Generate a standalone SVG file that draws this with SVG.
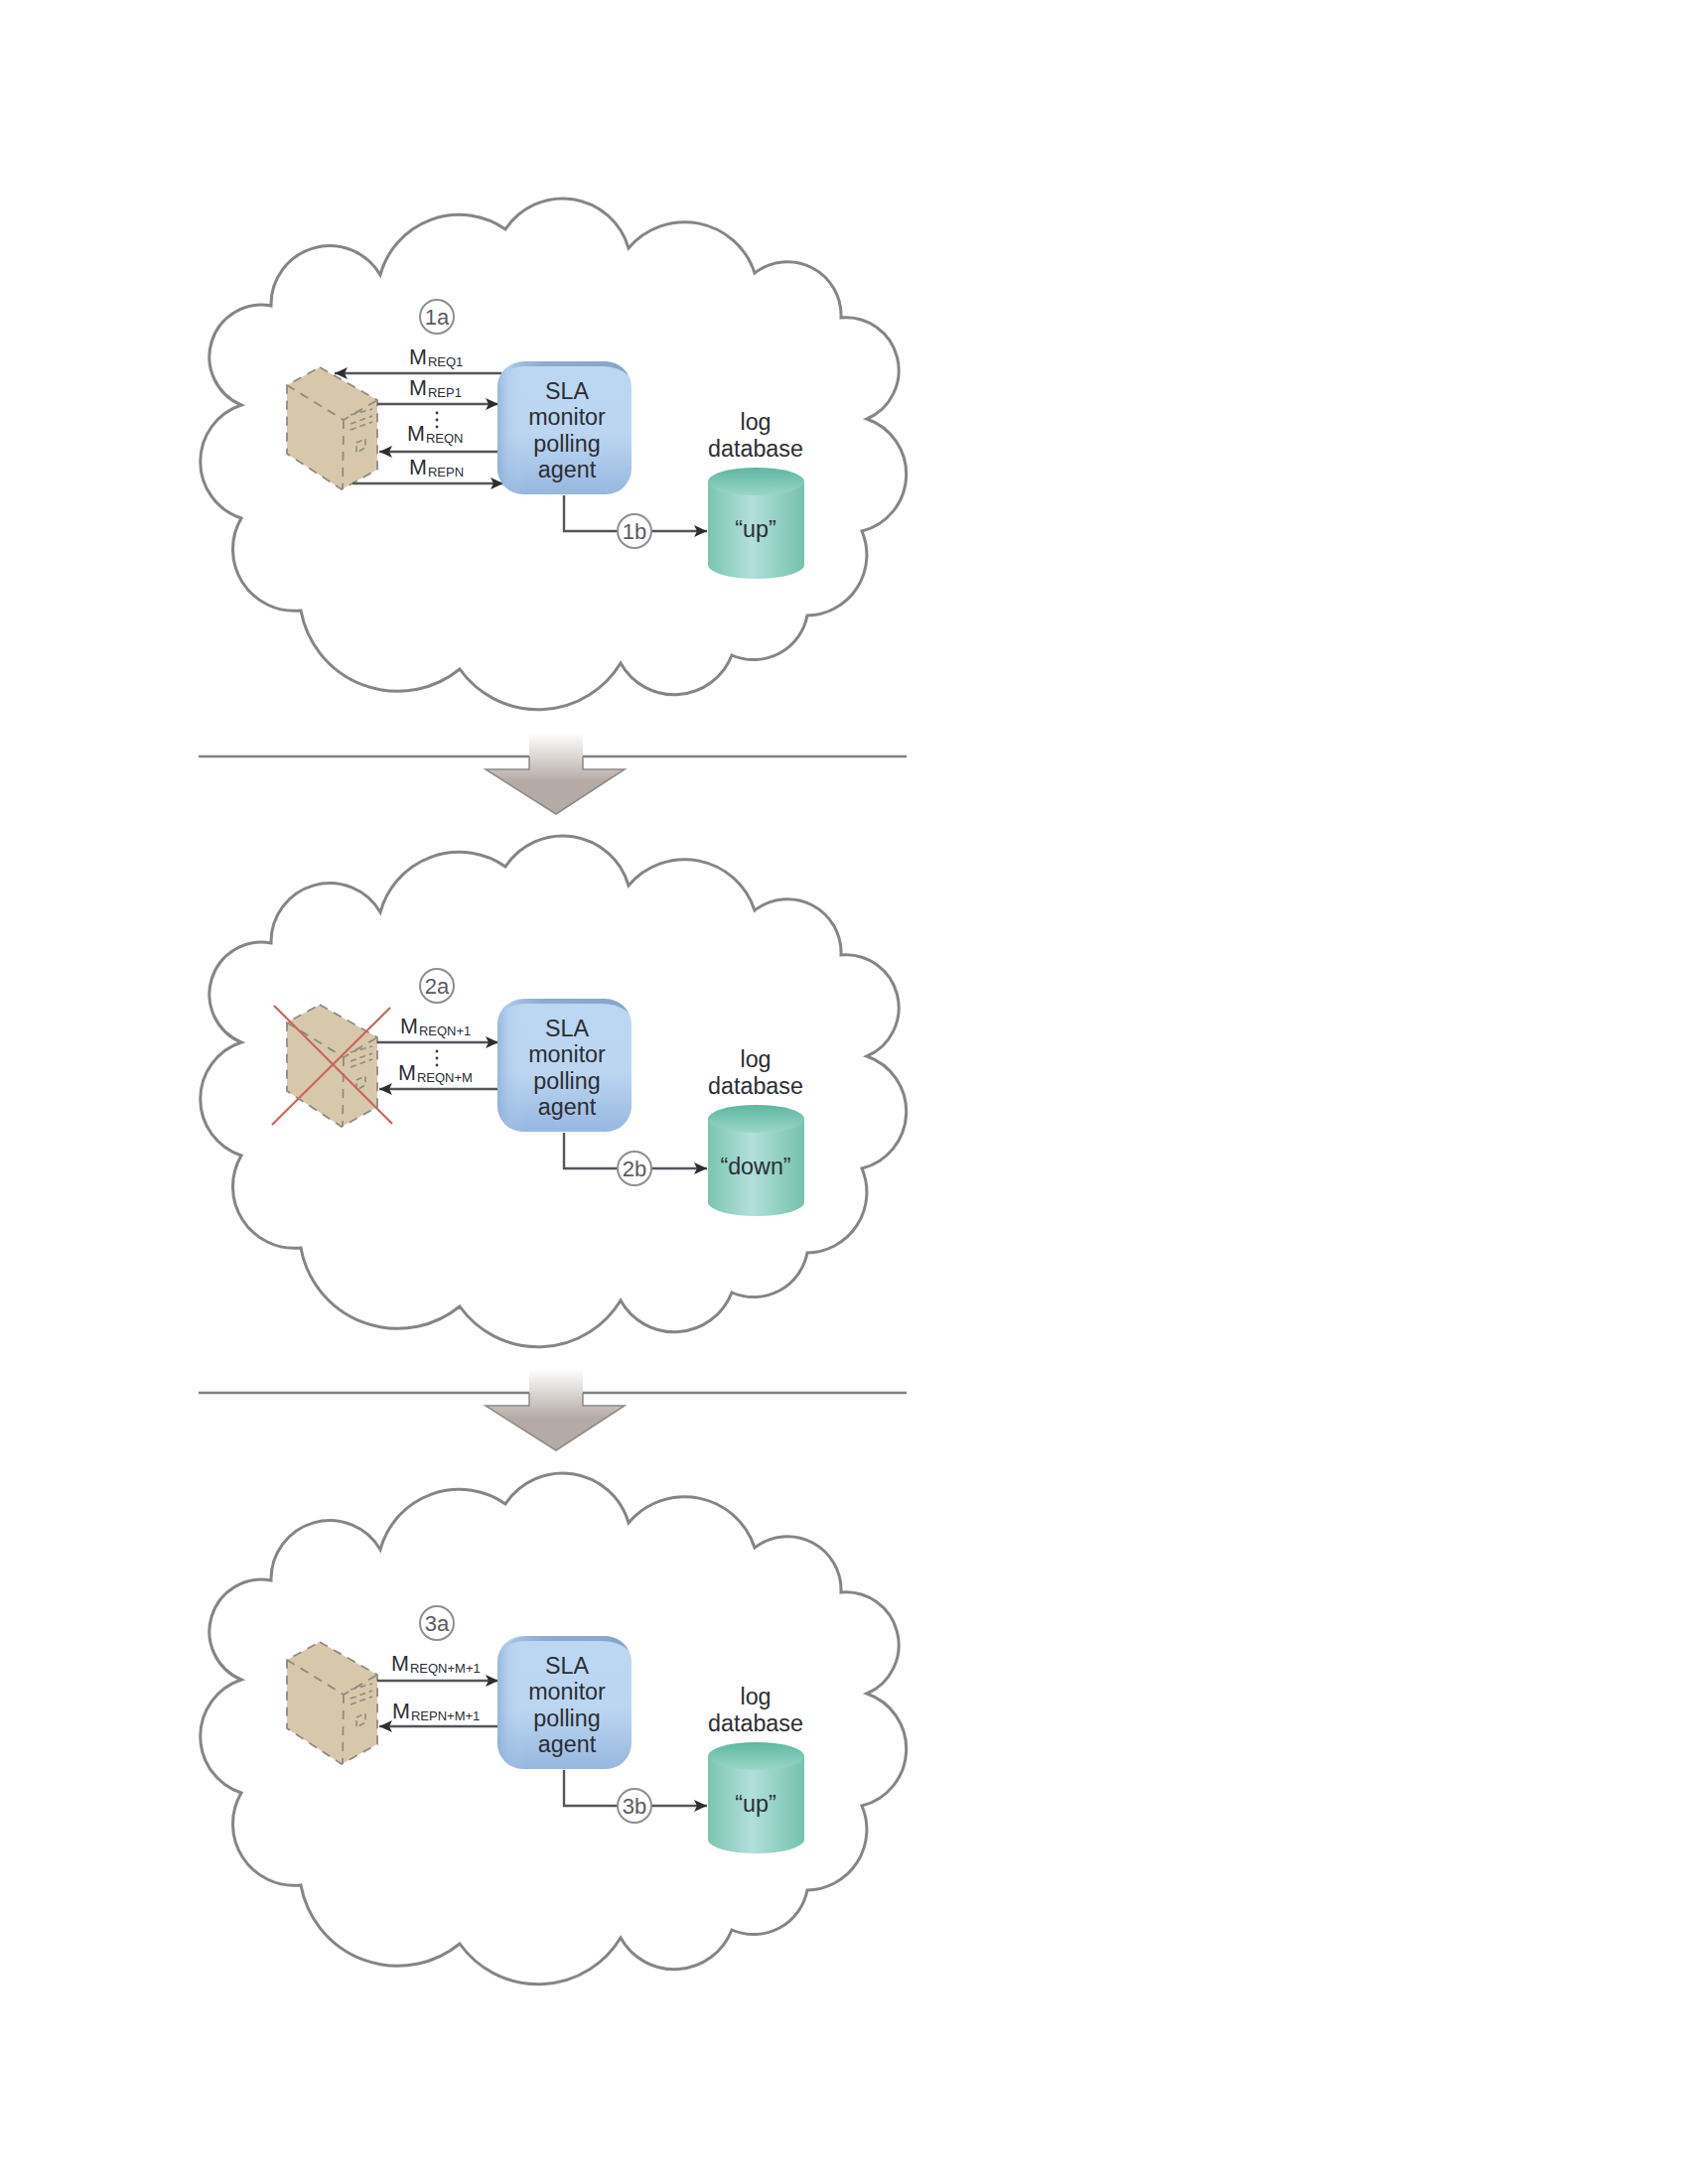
<svg xmlns="http://www.w3.org/2000/svg" xmlns:xlink="http://www.w3.org/1999/xlink" width="1700" height="2200" viewBox="0 0 1700 2200">
<style>
text{font-family:"Liberation Sans",Arial,sans-serif;fill:#2c2e33;text-anchor:middle}
.t{font-size:23.3px}
.m{font-size:21.500px;text-anchor:start}
.s{font-size:13px}
.n{font-size:22px;fill:#5a5b5f}
.cl{fill:#fff;stroke:#858587;stroke-width:3}
.c{fill:none;stroke:#55555a;stroke-width:2.4}
.a{marker-end:url(#ah)}
.k{fill:#fff;stroke:#8f8f8f;stroke-width:2}
.d{fill:none;stroke:#8f8b80;stroke-width:1.8;stroke-dasharray:9 7}
.v{fill:none;stroke:#8f8b80;stroke-width:1.6;stroke-dasharray:6 4}
.dv{stroke:#808082;stroke-width:2.4}
.dot{fill:#3a3a3e}
</style>
<defs>
<marker id="ah" markerUnits="userSpaceOnUse" markerWidth="16" markerHeight="14" refX="13" refY="7" orient="auto"><path d="M0,1 L13,7 L0,13 L3,7 Z" fill="#2e2e32"/></marker>
<linearGradient id="bx" x1="0" y1="0" x2="0" y2="1"><stop offset="0" stop-color="#bcd7f2"/><stop offset=".55" stop-color="#bcd6f1"/><stop offset="1" stop-color="#97b7e0"/></linearGradient>
<linearGradient id="bl" x1="0" y1="0" x2="1" y2="0"><stop offset="0" stop-color="#86a8d2" stop-opacity=".7"/><stop offset=".08" stop-color="#9dbce2" stop-opacity=".3"/><stop offset=".2" stop-color="#bdd7f2" stop-opacity="0"/></linearGradient>
<linearGradient id="bt" x1="0" y1="0" x2="1" y2="0"><stop offset="0" stop-color="#a9c5e4"/><stop offset=".3" stop-color="#8eacd0"/><stop offset="1" stop-color="#86a4ca"/></linearGradient>
<linearGradient id="cy" x1="0" y1="0" x2="1" y2="0"><stop offset="0" stop-color="#7cc5b0"/><stop offset=".45" stop-color="#b2dfdb"/><stop offset="1" stop-color="#77c2ad"/></linearGradient>
<linearGradient id="ct" x1="0" y1="0" x2="0" y2="1"><stop offset="0" stop-color="#5fb6a1"/><stop offset="1" stop-color="#9ad6c8"/></linearGradient>
<linearGradient id="ar" x1="0" y1="0" x2="0" y2="1"><stop offset="0" stop-color="#fff"/><stop offset=".6" stop-color="#b5aba6"/><stop offset="1" stop-color="#b5aba6"/></linearGradient>
<path id="cloud" class="cl" d="M509,231 A69,69 0 0 1 633,250 A74,74 0 0 1 760,275 A54,54 0 0 1 847,320 A53.3,53.3 0 0 1 873,422 A59,59 0 0 1 868,535 A61,61 0 0 1 813,620 A55,55 0 0 1 737,660 A62,62 0 0 1 625,668 A97,97 0 0 1 463,674 A99,99 0 0 1 303,615 A62,62 0 0 1 243,522 A60,60 0 0 1 243,408 A52.5,52.5 0 0 1 273,308 A59,59 0 0 1 383,277 A82,82 0 0 1 509,231 Z"/>
<g id="srv">
<path d="M322,370 L380,403 L380,473 L344,493 L289,457 L289,388 Z" fill="#d8c8ab"/>
<path class="d" d="M322,370 L380,403 L380,473 L344,493 L289,457 L289,388 Z"/>
<path class="d" d="M289,388 L346,423 L380,403 M346,423 L345,493"/>
<path class="v" d="M353,418 L375,412 M353,427 L375,419 M353,433 L375,425"/>
<path class="v" d="M359,446 L368,442 L368,451 L359,456 Z"/>
</g>
<g id="box">
<rect x="501" y="364" width="135" height="134" rx="26" fill="url(#bx)"/>
<rect x="501" y="364" width="135" height="134" rx="26" fill="url(#bl)"/>
<path d="M510,374 Q517,364 530,364 L608,364 Q624,364 633,378 Q622,369 606,369 L530,369 Q518,369 510,374 Z" fill="url(#bt)"/>
</g>
<g id="cyl">
<path d="M713,485 L713,569 A48.5,14 0 0 0 810,569 L810,485 Z" fill="url(#cy)"/>
<ellipse cx="761.500" cy="485" rx="48.500" ry="14" fill="url(#ct)"/>
</g>
<g id="dvd">
<path class="dv" d="M200,762 L534,762 M586,762 L913,762"/>
<path d="M533,738 L587,738 L587,775 L629,775 L560,820 L489,775 L533,775 Z" fill="url(#ar)"/>
<path d="M587,762 L587,775 L629,775 L560,820 L489,775 L533,775 L533,762" fill="none" stroke="#8f8985" stroke-width="1.5"/>
</g>
</defs>
<rect width="1700" height="2200" fill="#fff"/>

<g id="cloud1"><use xlink:href="#cloud" href="#cloud"/></g>
<g id="cloud2" transform="translate(0,642)"><use xlink:href="#cloud" href="#cloud"/></g>
<g id="cloud3" transform="translate(0,1284)"><use xlink:href="#cloud" href="#cloud"/></g>
<g id="divider1"><use xlink:href="#dvd" href="#dvd"/></g>
<g id="divider2" transform="translate(0,641)"><use xlink:href="#dvd" href="#dvd"/></g>

<g id="server1"><use xlink:href="#srv" href="#srv"/></g>
<g id="server2" transform="translate(0,642)"><use xlink:href="#srv" href="#srv"/></g>
<g id="server3" transform="translate(0,1284)"><use xlink:href="#srv" href="#srv"/></g>

<g id="connectors">
<path class="c a" d="M505,376 L337,376"/>
<path class="c a" d="M380,407 L502,407"/>
<path class="c a" d="M503,455 L382,455"/>
<path class="c a" d="M355,487 L507,487"/>
<path class="c a" d="M568,499 L568,535 L712,535"/>
<path class="c a" d="M380,1050 L502,1050"/>
<path class="c a" d="M503,1097 L382,1097"/>
<path class="c a" d="M568,1141 L568,1177 L712,1177"/>
<path class="c a" d="M380,1693 L502,1693"/>
<path class="c a" d="M503,1739 L382,1739"/>
<path class="c a" d="M568,1783 L568,1819 L712,1819"/>
</g>

<g id="cross"><path d="M276,1013 L395,1132 M393,1015 L274,1133" stroke="#c8675e" stroke-width="2.2" fill="none"/></g>

<g id="agent1"><use xlink:href="#box" href="#box"/><text class="t" x="571" y="402">SLA</text><text class="t" x="571" y="428">monitor</text><text class="t" x="571" y="455">polling</text><text class="t" x="571" y="481">agent</text></g>
<g id="agent2" transform="translate(0,642)"><use xlink:href="#box" href="#box"/><text class="t" x="571" y="402">SLA</text><text class="t" x="571" y="428">monitor</text><text class="t" x="571" y="455">polling</text><text class="t" x="571" y="481">agent</text></g>
<g id="agent3" transform="translate(0,1284)"><use xlink:href="#box" href="#box"/><text class="t" x="571" y="402">SLA</text><text class="t" x="571" y="428">monitor</text><text class="t" x="571" y="455">polling</text><text class="t" x="571" y="481">agent</text></g>

<g id="db1"><use xlink:href="#cyl" href="#cyl"/><text class="t" x="761" y="433">log</text><text class="t" x="761" y="460">database</text><text class="t" x="761" y="541">“up”</text></g>
<g id="db2" transform="translate(0,642)"><use xlink:href="#cyl" href="#cyl"/><text class="t" x="761" y="433">log</text><text class="t" x="761" y="460">database</text><text class="t" x="761" y="541">“down”</text></g>
<g id="db3" transform="translate(0,1284)"><use xlink:href="#cyl" href="#cyl"/><text class="t" x="761" y="433">log</text><text class="t" x="761" y="460">database</text><text class="t" x="761" y="541">“up”</text></g>

<g id="step1a"><circle class="k" cx="440" cy="319" r="17"/><text class="n" x="440" y="327">1a</text></g>
<g id="step1b"><circle class="k" cx="639" cy="535" r="17"/><text class="n" x="639" y="543">1b</text></g>
<g id="step2a"><circle class="k" cx="440" cy="993" r="17"/><text class="n" x="440" y="1001">2a</text></g>
<g id="step2b"><circle class="k" cx="639" cy="1177" r="17"/><text class="n" x="639" y="1185">2b</text></g>
<g id="step3a"><circle class="k" cx="440" cy="1635" r="17"/><text class="n" x="440" y="1643">3a</text></g>
<g id="step3b"><circle class="k" cx="639" cy="1819" r="17"/><text class="n" x="639" y="1827">3b</text></g>

<g id="labels">
<text class="m" x="412" y="367">M<tspan class="s" dy="2" dx="1">REQ1</tspan></text>
<text class="m" x="412" y="398">M<tspan class="s" dy="2" dx="1">REP1</tspan></text>
<text class="m" x="410" y="444">M<tspan class="s" dy="2" dx="1">REQN</tspan></text>
<text class="m" x="412" y="478">M<tspan class="s" dy="2" dx="1">REPN</tspan></text>
<circle class="dot" cx="440" cy="416" r="1.4"/><circle class="dot" cx="440" cy="423" r="1.4"/><circle class="dot" cx="440" cy="430" r="1.4"/>
<text class="m" x="403" y="1041">M<tspan class="s" dy="2" dx="1">REQN+1</tspan></text>
<text class="m" x="401" y="1088">M<tspan class="s" dy="2" dx="1">REQN+M</tspan></text>
<circle class="dot" cx="440" cy="1059" r="1.4"/><circle class="dot" cx="440" cy="1066" r="1.4"/><circle class="dot" cx="440" cy="1073" r="1.4"/>
<text class="m" x="394" y="1683">M<tspan class="s" dy="2" dx="1">REQN+M+1</tspan></text>
<text class="m" x="395" y="1731">M<tspan class="s" dy="2" dx="1">REPN+M+1</tspan></text>
</g>
</svg>
